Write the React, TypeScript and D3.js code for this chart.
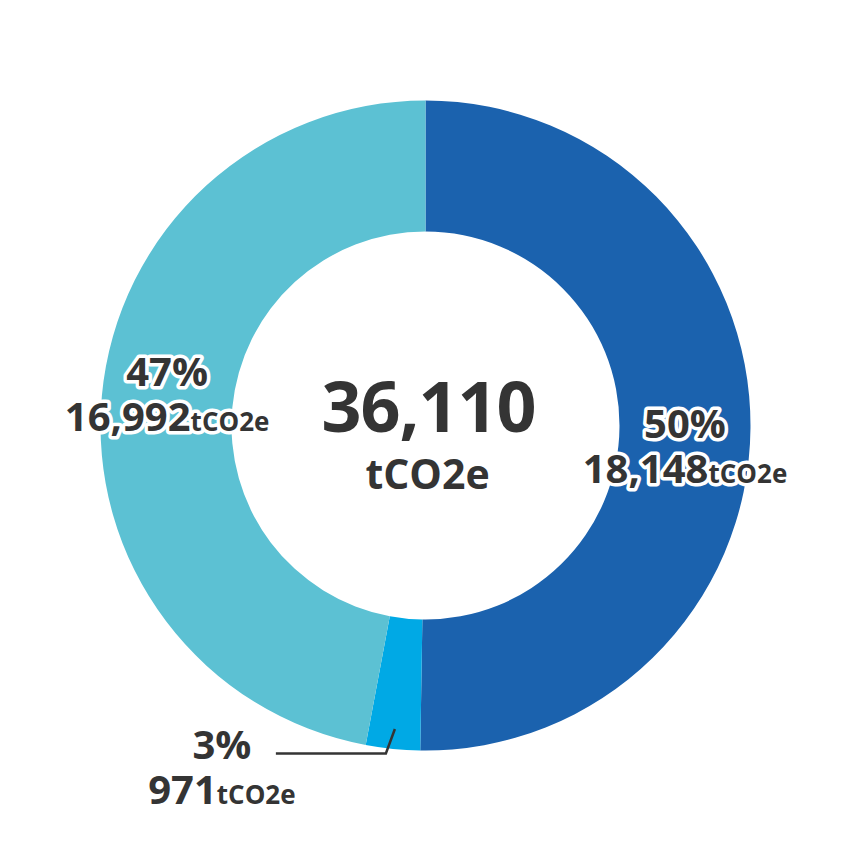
import React, { useEffect, useRef } from "react"
import * as d3 from "d3"

const WIDTH = 851
const HEIGHT = 851
const CX = 425.5
const CY = 425.5
const OUTER = 325
const INNER = 194

const categories = ["A", "B", "C"]
const values = [18148, 971, 16992]
const percentLabels = ["50%", "3%", "47%"]
const amountLabels = ["18,148", "971", "16,992"]
const colors = ["#1b62ae", "#00a9e5", "#5cc1d3"]
const totalLabel = "36,110"
const unit = "tCO2e"

const TEXT = "#343434"
const FONT = "'Open Sans', 'Noto Sans', sans-serif"

const App: React.FC = () => {
    const svgRef = useRef<SVGSVGElement | null>(null)

    useEffect(() => {
        document.body.style.margin = "0"
        if (!svgRef.current) return
        const svg = d3.select(svgRef.current)
        svg.selectAll("*").remove()

        const data = categories.map((c, i) => ({ key: c, value: values[i], i }))
        const pie = d3
            .pie<{ key: string; value: number; i: number }>()
            .value(d => d.value)
            .sort(null)
        const arcs = pie(data)
        const arc = d3
            .arc<d3.PieArcDatum<{ key: string; value: number; i: number }>>()
            .innerRadius(INNER)
            .outerRadius(OUTER)

        const g = svg.append("g").attr("transform", `translate(${CX},${CY})`)

        g.selectAll("path")
            .data(arcs)
            .enter()
            .append("path")
            .attr("d", arc)
            .attr("fill", d => colors[d.data.i])

        // 中央の合計
        g.append("text")
            .attr("text-anchor", "middle")
            .attr("x", 3)
            .attr("y", 6)
            .attr("font-family", FONT)
            .attr("font-weight", 700)
            .attr("font-size", 70)
            .attr("letter-spacing", -1)
            .attr("fill", TEXT)
            .text(totalLabel)
        g.append("text")
            .attr("text-anchor", "middle")
            .attr("x", 2)
            .attr("y", 63)
            .attr("font-family", FONT)
            .attr("font-weight", 700)
            .attr("font-size", 41)
            .attr("fill", TEXT)
            .text(unit)

        const addLabel = (x: number, y1: number, y2: number, i: number) => {
            const lg = g.append("g")
                .attr("font-family", FONT)
                .attr("font-weight", 700)
                .attr("fill", TEXT)
                .attr("stroke", "#fff")
                .attr("stroke-width", 7)
                .attr("stroke-linejoin", "round")
                .attr("paint-order", "stroke")
                .attr("text-anchor", "middle")
            lg.append("text")
                .attr("x", x)
                .attr("y", y1)
                .attr("font-size", 40)
                .text(percentLabels[i])
            const t = lg.append("text")
                .attr("x", x)
                .attr("y", y2)
            t.append("tspan").attr("font-size", 40).text(amountLabels[i])
            t.append("tspan").attr("font-size", 26).text(unit)
        }

        // 大きい区間: 重心にラベル
        const offsets: Record<number, [number, number]> = { 0: [10, 55], 2: [-16, 29] }
        arcs.forEach(a => {
            const i = a.data.i
            if (!offsets[i]) return
            const [cx, cy] = arc.centroid(a)
            addLabel(cx, cy + offsets[i][0], cy + offsets[i][1], i)
        })

        // 小さい区間: 引き出し線
        const small = arcs.find(a => a.data.i === 1)!
        const mid = (small.startAngle + small.endAngle) / 2
        const p0: [number, number] = [Math.sin(mid) * 305, -Math.cos(mid) * 305]
        const p1: [number, number] = [p0[0] - 9, 328]
        const p2: [number, number] = [p0[0] - 119, 328]
        g.append("path")
            .attr("d", d3.line()([p0, p1, p2]))
            .attr("fill", "none")
            .attr("stroke", TEXT)
            .attr("stroke-width", 2.5)
        addLabel(p2[0] - 54, 333, 378, 1)
    }, [])

    return <svg ref={svgRef} width={WIDTH} height={HEIGHT} style={{ display: "block" }} />
}

export default App
